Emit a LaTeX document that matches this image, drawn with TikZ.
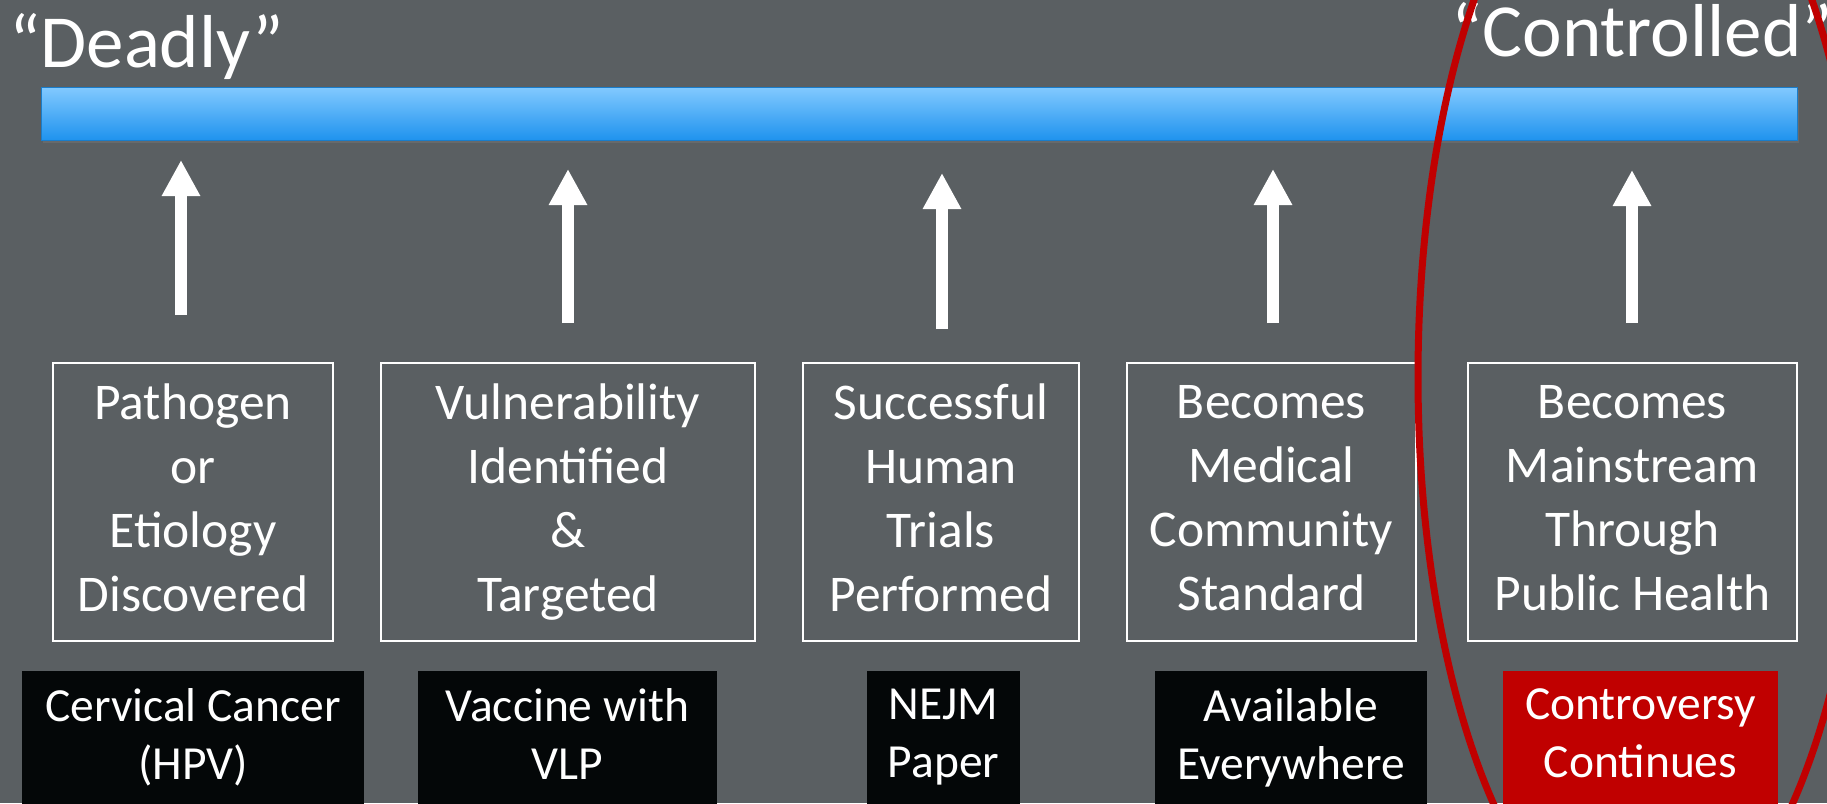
\documentclass[tikz,border=0pt]{standalone}
\usepackage{fontspec}
\setmainfont{Carlito}
\usetikzlibrary{arrows.meta,shadows}

\definecolor{slate}{HTML}{5A5F62}
\definecolor{barlight}{HTML}{82C9FF}
\definecolor{bardark}{HTML}{1F93EE}
\definecolor{darkred}{HTML}{C00000}
\definecolor{inkblack}{HTML}{040708}

\newcommand{\stagestrut}{\rule[-9pt]{0pt}{60pt}}
\newcommand{\notestrut}{\rule[-8pt]{0pt}{57pt}}

\begin{document}
\begin{tikzpicture}[x=1pt,y=-1pt,
  stagebox/.style={shape=rectangle,draw=white,line width=1.8pt,minimum height=278pt,inner sep=0pt,align=center,text=white,
    execute at begin node=\stagestrut,execute at end node=\stagestrut,font=\fontsize{51.5}{64}\selectfont},
  notebox/.style={shape=rectangle,fill=inkblack,minimum height=133pt,inner sep=0pt,align=center,text=white,
    execute at begin node=\notestrut,execute at end node=\notestrut,font=\fontsize{47.5}{58}\selectfont},
  liftarrow/.style={draw=white,line width=12.5pt,-{Triangle[width=36pt,length=36pt]}},
  headline/.style={anchor=base west,inner sep=0pt,text=white,font=\fontsize{75}{75}\selectfont}]

\useasboundingbox (0,0) rectangle (1827,803);
\clip (0,0) rectangle (1827,803);
\fill[slate] (0,0) rectangle (1827,803);

% timeline bar
\node[shape=rectangle,draw=bardark!85!black,line width=0.8pt,top color=barlight,bottom color=bardark,
  minimum width=1756pt,minimum height=53pt,inner sep=0pt,
  drop shadow={shadow xshift=2pt,shadow yshift=-3pt,opacity=0.35}] (bar) at (919,113.5) {};

\node[headline] (deadly) at (9,67) {“Deadly”};
\node[headline] (controlled) at (1451,56) {“Controlled”};

% arrows
\coordinate (foot1) at (181,315); \coordinate (tip1) at (181,160);
\coordinate (foot2) at (568,323); \coordinate (tip2) at (568,169);
\coordinate (foot3) at (942,329); \coordinate (tip3) at (942,173);
\coordinate (foot4) at (1273,323); \coordinate (tip4) at (1273,169);
\coordinate (foot5) at (1632,323); \coordinate (tip5) at (1632,170);

\draw[liftarrow] (foot1) -- (tip1);
\draw[liftarrow] (foot2) -- (tip2);
\draw[liftarrow] (foot3) -- (tip3);
\draw[liftarrow] (foot4) -- (tip4);
\draw[liftarrow] (foot5) -- (tip5);

% stages
\node[stagebox,minimum width=280pt] (S1) at (193,502) {Pathogen\\or\\Etiology\\Discovered};
\node[stagebox,minimum width=374pt] (S2) at (568,502) {Vulnerability\\Identified\\\&\\Targeted};
\node[stagebox,minimum width=276pt] (S3) at (941,502) {Successful\\Human\\Trials\\Performed};
\node[stagebox,minimum width=289pt] (S4) at (1271.5,502) {Becomes\\Medical\\Community\\Standard};
\node[stagebox,minimum width=329pt] (S5) at (1632.5,502) {Becomes\\Mainstream\\Through\\Public Health};

% examples
\node[notebox,minimum width=342pt] (N1) at (193,737.5) {Cervical Cancer\\(HPV)};
\node[notebox,minimum width=299pt] (N2) at (567.5,737.5) {Vaccine with\\VLP};
\node[notebox,minimum width=153pt] (N3) at (943.5,737.5) {NEJM\\Paper};
\node[notebox,minimum width=272pt] (N4) at (1291,737.5) {Available\\Everywhere};
\node[notebox,minimum width=275pt,fill=darkred] (N5) at (1640.5,737.5) {Controversy\\Continues};

\draw[darkred,line width=7pt] (1643,377) ellipse [x radius=225, y radius=571];

\end{tikzpicture}
\end{document}
